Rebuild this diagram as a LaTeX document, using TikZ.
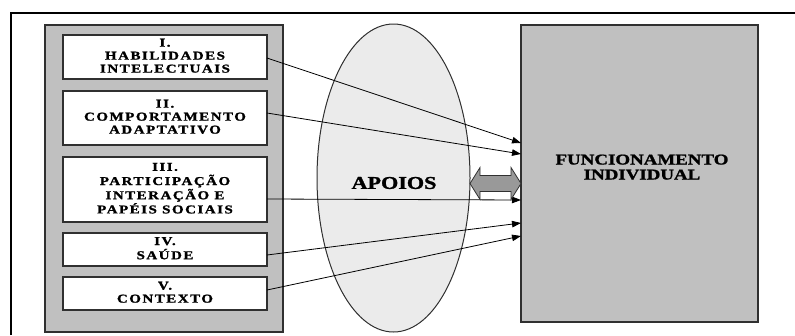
\documentclass[tikz,border=0pt]{standalone}
\usepackage{fontspec}
\setmainfont{Liberation Serif}[BoldFeatures={FakeBold=1.2}]
\newfontfamily\boxfont{Liberation Serif}[LetterSpace=10,BoldFeatures={FakeBold=1.2}]
\usetikzlibrary{arrows.meta,shapes.geometric}
\definecolor{panelgray}{HTML}{C0C0C0}
\definecolor{ellgray}{HTML}{EBEBEB}
\definecolor{dblgray}{HTML}{999999}
\definecolor{edge}{HTML}{303030}
\newcommand\boxtxt[1]{\scalebox{1.25}[1]{\begin{tabular}{@{}c@{}}#1\end{tabular}}}
\tikzset{
  box/.style={draw=edge, line width=1.2pt, fill=white, rectangle, inner sep=0pt,
    minimum width=204pt,
    font=\boxfont\bfseries\fontsize{12}{13}\selectfont},
  panel/.style={draw=edge, line width=1.2pt, fill=panelgray, rectangle, inner sep=0pt},
  arr/.style={draw=black, line width=0.8pt, -{Triangle[length=9pt,width=6.5pt]}},
}
\begin{document}
\begin{tikzpicture}[x=1pt,y=-1pt]
\useasboundingbox (0,0) rectangle (795,335);
\fill[white] (0,0) rectangle (795,335);
% outer frame
\draw[line width=2pt, black] (11,335) -- (11,13) -- (795,13);
% left panel
\node[panel, minimum width=238pt, minimum height=307pt] (lp) at (164,178.5) {};
% boxes
\node[box, minimum height=44pt] (b1) at (165,57) {\boxtxt{I.\\HABILIDADES\\INTELECTUAIS}};
\node[box, minimum height=54pt] (b2) at (165,118) {\boxtxt{II.\\COMPORTAMENTO\\ADAPTATIVO}};
\node[box, minimum height=65pt] (b3) at (165,189.5) {\boxtxt{III.\\PARTICIPAÇÃO\\INTERAÇÃO E\\PAPÉIS SOCIAIS}};
\node[box, minimum height=33pt] (b4) at (165,249.5) {\boxtxt{IV.\\SAÚDE}};
\node[box, minimum height=33pt] (b5) at (165,293.5) {\boxtxt{V.\\CONTEXTO}};
% ellipse
\node[ellipse, draw=edge, line width=1pt, fill=ellgray, minimum width=153pt, minimum height=308pt, inner sep=0pt] (ap) at (393.5,178) {};
\node[font=\bfseries\fontsize{18}{20}\selectfont, inner sep=0pt] (apt) at (394,183) {\scalebox{1.23}[1]{APOIOS}};
% right box
\node[panel, minimum width=237pt, minimum height=297pt] (fi) at (639.5,173.5) {};
\node[font=\bfseries\fontsize{15}{15}\selectfont, inner sep=0pt] (fit) at (642,169) {\scalebox{1.26}[1]{\begin{tabular}{@{}c@{}}FUNCIONAMENTO\\INDIVIDUAL\end{tabular}}};
% coordinates
\coordinate (s1) at (267,58);
\coordinate (s2) at (267,113);
\coordinate (s3) at (267,199);
\coordinate (s4) at (267,255);
\coordinate (s5) at (267,290);
\coordinate (t1) at (521,143);
\coordinate (t2) at (521,154);
\coordinate (t3) at (521,200);
\coordinate (t4) at (521,223);
\coordinate (t5) at (521,236);
\draw[arr] (s1) -- (t1);
\draw[arr] (s2) -- (t2);
\draw[arr] (s3) -- (t3);
\draw[arr] (s4) -- (t4);
\draw[arr] (s5) -- (t5);
% double arrow
\coordinate (da) at (470,183.5);
\coordinate (db) at (521,183.5);
\draw[draw=edge, line width=0.8pt, fill=dblgray]
  (da) -- ++(10,-16) -- ++(0,8) -- ++(31,0) -- ++(0,-8) -- (db)
  -- ++(-10,16) -- ++(0,-8) -- ++(-31,0) -- ++(0,8) -- cycle;
\end{tikzpicture}
\end{document}
